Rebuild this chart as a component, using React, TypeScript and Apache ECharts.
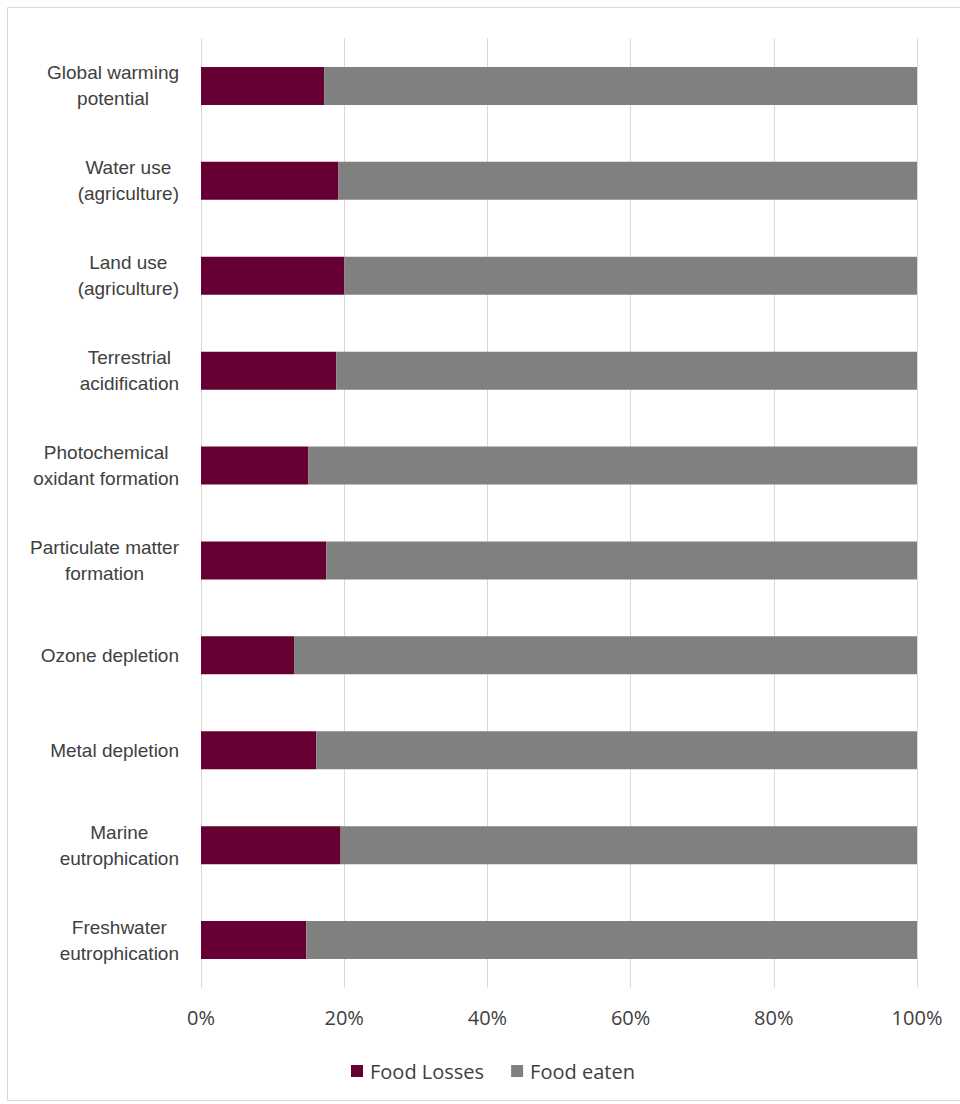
import React, { useEffect, useRef } from "react";
import * as echarts from "echarts";

const categories: string[] = [
  "Global warming\npotential",
  "Water use\n(agriculture)",
  "Land use\n(agriculture)",
  "Terrestrial\nacidification",
  "Photochemical\noxidant formation",
  "Particulate matter\nformation",
  "Ozone depletion",
  "Metal depletion",
  "Marine\neutrophication",
  "Freshwater\neutrophication",
];

const foodLosses: number[] = [17.2, 19.2, 20.0, 18.9, 15.0, 17.5, 13.0, 16.1, 19.5, 14.7];
const foodEaten: number[] = [82.8, 80.8, 80.0, 81.1, 85.0, 82.5, 87.0, 83.9, 80.5, 85.3];

const seriesNames: string[] = ["Food Losses", "Food eaten"];
const tickValues: number[] = [0, 20, 40, 60, 80, 100];

const CAT_FONT = '"Liberation Sans Narrow", "Arial Narrow", "Liberation Sans", Arial, sans-serif';

export default function App() {
  const ref = useRef<HTMLDivElement>(null);

  useEffect(() => {
    if (!ref.current) return;
    const chart = echarts.init(ref.current, null, { renderer: "svg" });

    chart.setOption({
      animation: false,
      backgroundColor: "#ffffff",
      graphic: [
        {
          type: "rect",
          shape: { x: 7.5, y: 7.5, width: 960, height: 1093 },
          style: { fill: "none", stroke: "#d9d9d9", lineWidth: 1 },
          silent: true,
        },
      ],
      grid: { left: 201, right: 43, top: 38.5, bottom: 116.5, containLabel: false },
      legend: {
        data: seriesNames,
        left: 351,
        top: 1061,
        padding: 0,
        icon: "rect",
        itemWidth: 12,
        itemHeight: 12,
        itemGap: 27,
        textStyle: {
          fontFamily: "Open Sans",
          fontSize: 20,
          color: "#404040",
          padding: [0, 0, 0, 2],
        },
      },
      xAxis: {
        type: "value",
        min: 0,
        max: 100,
        interval: 20,
        axisLine: { show: false },
        axisTick: { show: false },
        splitLine: { show: true, lineStyle: { color: "#d9d9d9", width: 1 } },
        axisLabel: {
          formatter: (v: number) => (tickValues.includes(v) ? `${v}%` : ""),
          fontFamily: "Open Sans",
          fontSize: 20,
          color: "#404040",
          margin: 20,
        },
      },
      yAxis: {
        type: "category",
        inverse: true,
        data: categories,
        axisLine: { show: false },
        axisTick: { show: false },
        axisLabel: {
          interval: 0,
          align: "right",
          margin: 22,
          formatter: (v: string) =>
            v
              .split("\n")
              .map((l) => `{c|${l}}`)
              .join("\n"),
          rich: {
            c: {
              align: "center",
              fontFamily: CAT_FONT,
              fontSize: 19,
              lineHeight: 26,
              color: "#404040",
            },
          },
        },
      },
      series: [
        {
          name: seriesNames[0],
          type: "bar",
          stack: "total",
          barCategoryGap: "60%",
          data: foodLosses,
          itemStyle: { color: "#660033" },
        },
        {
          name: seriesNames[1],
          type: "bar",
          stack: "total",
          barCategoryGap: "60%",
          data: foodEaten,
          itemStyle: { color: "#808080" },
        },
      ],
    });
    return () => chart.dispose();
  }, []);

  return (
    <div
      ref={ref}
      style={{ position: "absolute", left: 0, top: 0, width: 960, height: 1104 }}
    />
  );
}
